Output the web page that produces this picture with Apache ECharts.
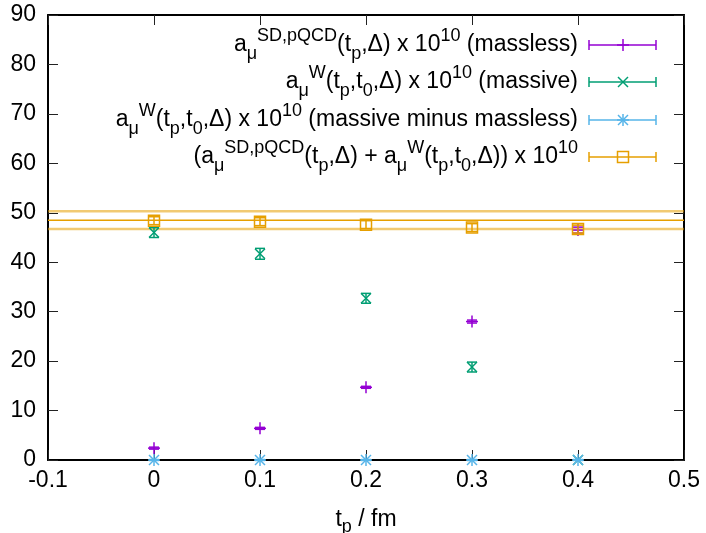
<!DOCTYPE html>
<html>
<head>
<meta charset="utf-8">
<script src="https://cdn.jsdelivr.net/npm/echarts@6/dist/echarts.min.js"></script>
<style>
  html, body { margin: 0; padding: 0; background: #fff; }
  #chart { width: 706px; height: 533px; }
</style>
</head>
<body>
<div id="chart"></div>
<script>
// Window start times t_p (fm)
const tp = [0, 0.1, 0.2, 0.3, 0.4];

// a_mu contributions x 1e10 and their uncertainties
const massless = [2.4, 6.4, 14.7, 28.0, 46.5];
const masslessErr = [0.2, 0.2, 0.2, 0.3, 0.6];
const massive = [46.0, 41.7, 32.7, 18.8, 0.0];
const massiveErr = [1.0, 1.1, 1.0, 1.0, 0.0];
const diff = [0.0, 0.0, 0.0, 0.0, 0.0];
const diffErr = [0.1, 0.1, 0.1, 0.1, 0.1];
const total = [48.4, 48.2, 47.6, 47.0, 46.7];
const totalErr = [0.8, 0.8, 0.8, 0.8, 0.8];

// Constant fit to the sum: lower edge, central value, upper edge
const band = [46.7, 48.5, 50.3];

// Axis ranges
const xRange = [-0.1, 0.5];
const yRange = [0, 90];

const FONT = 'Liberation Sans, Arial, Helvetica, sans-serif';
const FS = 23, FS_SMALL = 18;
const C_PURPLE = '#9400d3', C_GREEN = '#009e73', C_BLUE = '#56b4e9', C_ORANGE = '#e69f00';

// Point glyphs in the gnuplot style: +, x, *, open square
function glyph(kind, cx, cy, color) {
  const st = { stroke: color, lineWidth: 1.5, fill: null };
  const L = (x1, y1, x2, y2) => ({ type: 'line', shape: { x1, y1, x2, y2 }, style: st });
  switch (kind) {
    case 'plus': return [L(cx - 6, cy, cx + 6, cy), L(cx, cy - 6, cx, cy + 6)];
    case 'cross': return [L(cx - 5, cy - 5, cx + 5, cy + 5), L(cx - 5, cy + 5, cx + 5, cy - 5)];
    case 'star': return [L(cx - 6, cy, cx + 6, cy), L(cx, cy - 6, cx, cy + 6),
                         L(cx - 5, cy - 5, cx + 5, cy + 5), L(cx - 5, cy + 5, cx + 5, cy - 5)];
    default: return [{ type: 'rect', shape: { x: cx - 5.5, y: cy - 5.5, width: 11, height: 11 }, style: st }];
  }
}

function errSeries(name, vals, errs, kind, color) {
  return {
    type: 'custom',
    name,
    clip: false,
    data: tp.map((x, i) => [x, vals[i], errs[i]]),
    encode: { x: 0, y: 1 },
    renderItem(params, api) {
      const x = api.value(0), v = api.value(1), e = api.value(2);
      const c = api.coord([x, v]);
      const yt = api.coord([x, v + e])[1];
      const yb = api.coord([x, v - e])[1];
      const st = { stroke: color, lineWidth: 1.5 };
      const bars = [
        { type: 'line', shape: { x1: c[0], y1: yt, x2: c[0], y2: yb }, style: st },
        { type: 'line', shape: { x1: c[0] - 5, y1: yt, x2: c[0] + 5, y2: yt }, style: st },
        { type: 'line', shape: { x1: c[0] - 5, y1: yb, x2: c[0] + 5, y2: yb }, style: st }
      ];
      return { type: 'group', children: bars.concat(glyph(kind, c[0], c[1], color)) };
    }
  };
}

const bandSeries = band.map((v, i) => ({
  type: 'line',
  silent: true,
  symbol: 'none',
  data: [[xRange[0], v], [xRange[1], v]],
  lineStyle: i === 1 ? { color: C_ORANGE, width: 1.5 } : { color: 'rgba(230,159,0,0.55)', width: 2.5 },
  z: 1
}));

// Legend entries (text, glyph, colour)
const richGraphic = {
  b: { fontSize: FS, lineHeight: 36, verticalAlign: 'middle', fontFamily: FONT, fill: '#000' },
  sup: { fontSize: FS_SMALL, lineHeight: 17, verticalAlign: 'top', fontFamily: FONT, fill: '#000' },
  sub: { fontSize: FS_SMALL, lineHeight: 22, verticalAlign: 'bottom', fontFamily: FONT, fill: '#000' }
};
const legendItems = [
  ['{b|a}{sub|μ}{sup|SD,pQCD}{b|(t}{sub|p}{b|,Δ) x 10}{sup|10}{b| (massless)}', 'plus', C_PURPLE],
  ['{b|a}{sub|μ}{sup|W}{b|(t}{sub|p}{b|,t}{sub|0}{b|,Δ) x 10}{sup|10}{b| (massive)}', 'cross', C_GREEN],
  ['{b|a}{sub|μ}{sup|W}{b|(t}{sub|p}{b|,t}{sub|0}{b|,Δ) x 10}{sup|10}{b| (massive minus massless)}', 'star', C_BLUE],
  ['{b|(a}{sub|μ}{sup|SD,pQCD}{b|(t}{sub|p}{b|,Δ) + a}{sub|μ}{sup|W}{b|(t}{sub|p}{b|,t}{sub|0}{b|,Δ)) x 10}{sup|10}', 'square', C_ORANGE]
];
const legendRowsY = [45, 82, 120, 157];
const legendGraphics = [];
legendItems.forEach(([txt, kind, color], i) => {
  const y = legendRowsY[i];
  const st = { stroke: color, lineWidth: 1.5 };
  legendGraphics.push({
    type: 'text', x: 578, y,
    style: { text: txt, rich: richGraphic, align: 'right', verticalAlign: 'middle', font: FS + 'px ' + FONT, fill: '#000' }
  });
  legendGraphics.push({ type: 'line', shape: { x1: 589, y1: y, x2: 656, y2: y }, style: st });
  legendGraphics.push({ type: 'line', shape: { x1: 589, y1: y - 5, x2: 589, y2: y + 5 }, style: st });
  legendGraphics.push({ type: 'line', shape: { x1: 656, y1: y - 5, x2: 656, y2: y + 5 }, style: st });
  glyph(kind, 623, y, color).forEach(g => legendGraphics.push(g));
});

const axisCommon = {
  type: 'value',
  axisLine: { show: true, onZero: false, lineStyle: { color: '#000', width: 2 } },
  axisTick: { show: true, inside: true, length: 10, lineStyle: { color: '#222', width: 1 } },
  splitLine: { show: false }
};
const labelStyle = { color: '#000', fontSize: FS, fontFamily: FONT };

const option = {
  backgroundColor: '#fff',
  animation: false,
  grid: { left: 48, right: 22, top: 15, bottom: 73, containLabel: false, outerBoundsMode: 'none' },
  xAxis: [
    Object.assign({}, axisCommon, {
      position: 'bottom', min: xRange[0], max: xRange[1], interval: 0.1,
      axisLabel: Object.assign({ margin: 9, formatter: v => String(Number(v.toFixed(1))) }, labelStyle),
      name: '{b|t}{sub|p}{b| / fm}',
      nameLocation: 'middle', nameGap: 44,
      nameTextStyle: {
        rich: {
          b: { fontSize: FS, lineHeight: 32, verticalAlign: 'middle', fontFamily: FONT, color: '#000' },
          sub: { fontSize: FS_SMALL, lineHeight: 22, verticalAlign: 'bottom', fontFamily: FONT, color: '#000' }
        }
      }
    }),
    Object.assign({}, axisCommon, {
      position: 'top', min: xRange[0], max: xRange[1], interval: 0.1,
      axisLabel: { show: false }
    })
  ],
  yAxis: [
    Object.assign({}, axisCommon, {
      position: 'left', min: yRange[0], max: yRange[1], interval: 10,
      axisLabel: Object.assign({ margin: 12 }, labelStyle)
    }),
    Object.assign({}, axisCommon, {
      position: 'right', min: yRange[0], max: yRange[1], interval: 10,
      axisLabel: { show: false }
    })
  ],
  series: bandSeries.concat([
    errSeries('massless', massless, masslessErr, 'plus', C_PURPLE),
    errSeries('massive', massive, massiveErr, 'cross', C_GREEN),
    errSeries('massive minus massless', diff, diffErr, 'star', C_BLUE),
    errSeries('sum', total, totalErr, 'square', C_ORANGE)
  ]),
  graphic: legendGraphics
};

const chart = echarts.init(document.getElementById('chart'), null, { renderer: 'canvas' });
chart.setOption(option);
</script>
</body>
</html>
